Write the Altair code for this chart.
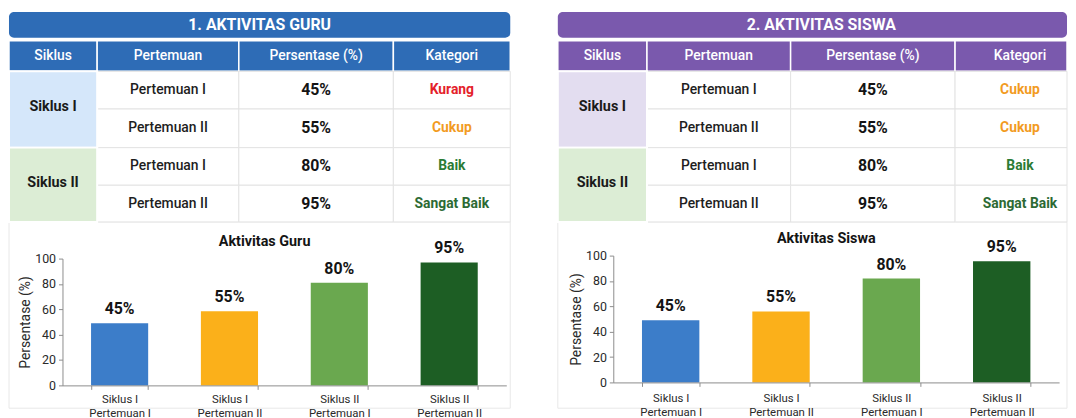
import altair as alt
import pandas as pd

# ---------------- data ----------------
siklus = ["Siklus I", "Siklus I", "Siklus II", "Siklus II"]
pertemuan = ["Pertemuan I", "Pertemuan II", "Pertemuan I", "Pertemuan II"]
kolom = ["Siklus", "Pertemuan", "Persentase (%)", "Kategori"]

guru_judul = "1. AKTIVITAS GURU"
guru_persen = ["45%", "55%", "80%", "95%"]
guru_kategori = ["Kurang", "Cukup", "Baik", "Sangat Baik"]
guru_grafik = "Aktivitas Guru"
guru_batang = [49, 58.5, 81, 97]          # bar heights as drawn

siswa_judul = "2. AKTIVITAS SISWA"
siswa_persen = ["45%", "55%", "80%", "95%"]
siswa_kategori = ["Cukup", "Cukup", "Baik", "Sangat Baik"]
siswa_grafik = "Aktivitas Siswa"
siswa_batang = [49, 56, 82, 95.5]         # bar heights as drawn

# ---------------- styles / layout ----------------
FONT = "Roboto"
W, H = 1068, 402
KAT_WARNA = {"Kurang": "#e4212a", "Cukup": "#f29b1f", "Baik": "#2b7b35", "Sangat Baik": "#2c6a33"}
BATANG_WARNA = ["#3c7dc9", "#fbb01a", "#6aa84f", "#1d5e24"]

panels = [
    dict(judul=guru_judul, persen=guru_persen, kategori=guru_kategori, grafik=guru_grafik,
         cols=[0, 89, 232, 388, 506], clip=506, kepala="#2e6cb6",
         sik=["#d5e7fa", "#dcedd5"], grafik_y=234),
    dict(judul=siswa_judul, persen=siswa_persen, kategori=siswa_kategori, grafik=siswa_grafik,
         cols=[554, 644, 789, 955, 1086], clip=1068, kepala="#7a59ad",
         sik=["#e3ddf0", "#dcedd5"], grafik_y=231),
]
TY = (2, 28)
HY = (31, 62)
RY = [62, 100, 139, 177, 214]

PX = alt.Scale(domain=[0, W], range=[0, W], nice=False, zero=False)
PY = alt.Scale(domain=[0, H], range=[0, H], nice=False, zero=False)

cards, bars_t, heads, siks, cells = [], [], [], [], []
t_title, t_head, t_sik, t_per, t_pct, t_kat, t_graf = [], [], [], [], [], [], []

for p in panels:
    c = p["cols"]
    clip = p["clip"]
    cards.append(dict(x0=c[0], x1=clip, y0=214, y1=H, fill="#ffffff"))
    bars_t.append(dict(x0=c[0], x1=clip, y0=TY[0], y1=TY[1], fill=p["kepala"]))
    for i in range(4):
        heads.append(dict(x0=c[i], x1=min(c[i + 1], clip), y0=HY[0], y1=HY[1], fill=p["kepala"]))
        t_head.append(dict(x=(c[i] + c[i + 1]) / 2, y=(HY[0] + HY[1]) / 2, t=kolom[i], c="#ffffff"))
    siks.append(dict(x0=c[0], x1=c[1], y0=RY[0], y1=RY[2], fill=p["sik"][0]))
    siks.append(dict(x0=c[0], x1=c[1], y0=RY[2], y1=RY[4], fill=p["sik"][1]))
    t_sik.append(dict(x=(c[0] + c[1]) / 2, y=(RY[0] + RY[2]) / 2 - 2, t=siklus[0], c="#1a1a1a"))
    t_sik.append(dict(x=(c[0] + c[1]) / 2, y=(RY[2] + RY[4]) / 2 - 2, t=siklus[2], c="#1a1a1a"))
    for r in range(4):
        for k in range(1, 4):
            cells.append(dict(x0=c[k], x1=min(c[k + 1], clip), y0=RY[r], y1=RY[r + 1], fill="#ffffff"))
        ym = (RY[r] + RY[r + 1]) / 2
        t_per.append(dict(x=(c[1] + c[2]) / 2, y=ym, t=pertemuan[r], c="#1e1e1e"))
        t_pct.append(dict(x=(c[2] + c[3]) / 2, y=ym, t=p["persen"][r], c="#141414"))
        t_kat.append(dict(x=(c[3] + c[4]) / 2, y=ym, t=p["kategori"][r], c=KAT_WARNA[p["kategori"][r]]))
    t_title.append(dict(x=(c[0] + c[4]) / 2, y=(TY[0] + TY[1]) / 2, t=p["judul"], c="#ffffff"))
    t_graf.append(dict(x=(c[0] + c[4]) / 2 + 5, y=p["grafik_y"], t=p["grafik"], c="#141414"))


def rect_layer(rows, **mk):
    return alt.Chart(pd.DataFrame(rows)).mark_rect(**mk).encode(
        x=alt.X("x0:Q", scale=PX, axis=None),
        x2="x1:Q",
        y=alt.Y("y0:Q", scale=PY, axis=None),
        y2="y1:Q",
        fill=alt.Fill("fill:N", scale=None),
    )


def text_layer(rows, **mk):
    return alt.Chart(pd.DataFrame(rows)).mark_text(font=FONT, align="center", baseline="middle", **mk).encode(
        x=alt.X("x:Q", scale=PX, axis=None),
        y=alt.Y("y:Q", scale=PY, axis=None),
        text="t:N",
        color=alt.Color("c:N", scale=None),
    )


table = alt.layer(
    rect_layer(cards, stroke="#e8e8e8", strokeWidth=1),
    rect_layer(bars_t, cornerRadius=5),
    rect_layer(heads, stroke="#ffffff", strokeWidth=1.5),
    rect_layer(cells, stroke="#e3e3e3", strokeWidth=1),
    rect_layer(siks, stroke="#ffffff", strokeWidth=2),
    text_layer(t_title, fontSize=16, fontWeight="bold"),
    text_layer(t_head, fontSize=14, fontWeight=500),
    text_layer(t_sik, fontSize=14.5, fontWeight="bold"),
    text_layer(t_per, fontSize=14, fontWeight=500),
    text_layer(t_pct, fontSize=16, fontWeight="bold"),
    text_layer(t_kat, fontSize=14, fontWeight="bold"),
    text_layer(t_graf, fontSize=14.5, fontWeight="bold"),
)


def bar_layer(nilai, label, xr, yr, xoff, yoff, lpad):
    df = pd.DataFrame({
        "sumbu": [f"{s}|{q}" for s, q in zip(siklus, pertemuan)],
        "nilai": nilai,
        "label": label,
        "warna": BATANG_WARNA,
    })
    xenc = alt.X(
        "sumbu:N", sort=None,
        scale=alt.Scale(range=xr, paddingInner=0.48, paddingOuter=0.26),
        axis=alt.Axis(title=None, orient="bottom", offset=yoff, labelAngle=0, zindex=2,
                      labelExpr="split(datum.label, '|')", tickBand="extent",
                      domainColor="#8c8c8c", tickColor="#8c8c8c", tickSize=4,
                      labelFont=FONT, labelFontSize=11.5, labelColor="#2a2a2a",
                      labelLineHeight=14, labelPadding=lpad, labelBaseline="top"),
    )
    yenc = alt.Y(
        "nilai:Q",
        scale=alt.Scale(domain=[0, 100], range=yr, nice=False),
        axis=alt.Axis(title="Persentase (%)", orient="left", offset=xoff, grid=False, zindex=2,
                      values=[0, 20, 40, 60, 80, 100], domainColor="#8c8c8c",
                      tickColor="#8c8c8c", tickSize=4, labelFont=FONT, labelFontSize=12.5,
                      labelColor="#2a2a2a", labelPadding=3, titleFont=FONT, titleFontSize=14,
                      titleFontWeight="normal", titleColor="#2a2a2a", titlePadding=2),
    )
    bars = alt.Chart(df).mark_bar().encode(x=xenc, y=yenc, color=alt.Color("warna:N", scale=None))
    txt = alt.Chart(df).mark_text(font=FONT, fontSize=16, fontWeight="bold", baseline="bottom",
                                  dy=-6, color="#141414").encode(
        x=alt.X("sumbu:N", sort=None), y="nilai:Q", text="label:N")
    return alt.layer(bars, txt)


bars_left = bar_layer(guru_batang, guru_persen, [54, 502], [379, 251], -54, 379 - H, 4)
bars_right = bar_layer(siswa_batang, siswa_persen, [610, 1060], [376, 248], -610, 376 - H, 6)

chart = alt.layer(table, bars_left, bars_right).resolve_scale(
    x="independent", y="independent", color="independent", fill="independent"
).properties(width=W, height=H, padding=0, background="#ffffff").configure_view(stroke=None)

chart.save("out.html", embed_options={"renderer": "svg", "actions": False})
